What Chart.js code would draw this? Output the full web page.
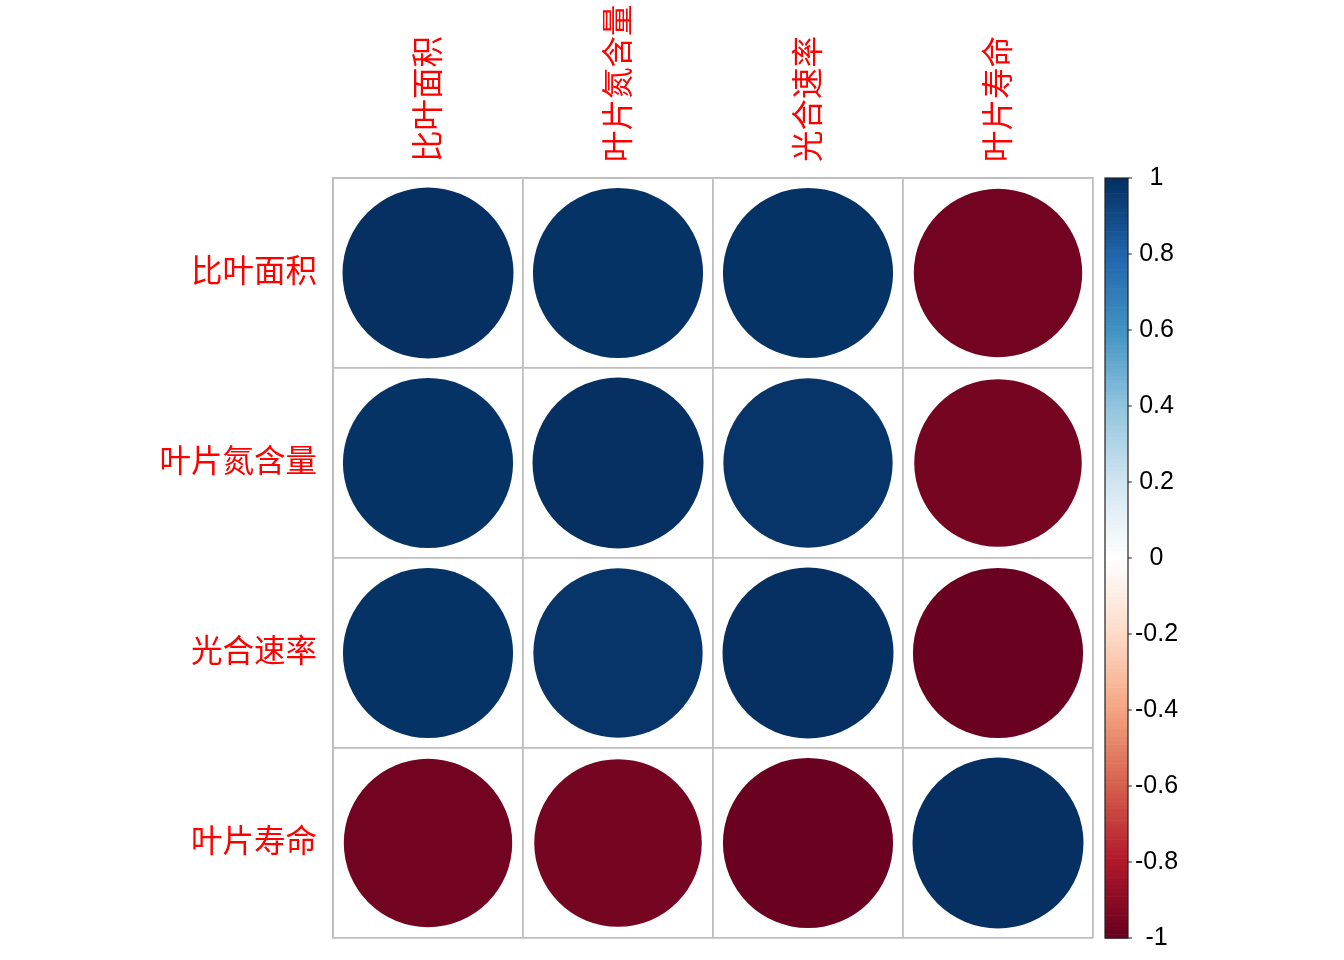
<!DOCTYPE html>
<html>
<head>
<meta charset="utf-8">
<script src="https://cdn.jsdelivr.net/npm/chart.js@4/dist/chart.umd.min.js"></script>
<style>
html,body{margin:0;padding:0;background:#fff;}
#wrap{width:1344px;height:960px;position:relative;}
</style>
</head>
<body>
<div id="wrap"><canvas id="c" width="1344" height="960"></canvas></div>
<script>
// ---- data ----
const variables = ['比叶面积', '叶片氮含量', '光合速率', '叶片寿命'];
const row1 = [1.00, 0.99, 0.99, -0.97];
const row2 = [0.99, 1.00, 0.98, -0.96];
const row3 = [0.99, 0.98, 1.00, -0.99];
const row4 = [-0.97, -0.96, -0.99, 1.00];
const corrRows = [row1, row2, row3, row4];
const barTicks = [-1, -0.8, -0.6, -0.4, -0.2, 0, 0.2, 0.4, 0.6, 0.8, 1];

// RdBu palette as used by corrplot (200 bins)
const rdbuStops = ['#67001F', '#B2182B', '#D6604D', '#F4A582', '#FDDBC7', '#FFFFFF',
                   '#D1E5F0', '#92C5DE', '#4393C3', '#2166AC', '#053061'];
function hex2rgb(h){return [parseInt(h.slice(1,3),16),parseInt(h.slice(3,5),16),parseInt(h.slice(5,7),16)];}
const stopsRGB = rdbuStops.map(hex2rgb);
const NBINS = 200;
const palette = [];
for (let i = 0; i < NBINS; i++) {
  const t = i / (NBINS - 1) * (stopsRGB.length - 1);
  const k = Math.min(Math.floor(t), stopsRGB.length - 2);
  const f = t - k;
  const a = stopsRGB[k], b = stopsRGB[k + 1];
  palette.push('rgb(' + a.map((v, j) => Math.round(v + (b[j] - v) * f)).join(',') + ')');
}
function colorFor(r) {
  const idx = Math.max(0, Math.min(NBINS - 1, Math.round((r + 1) / 2 * (NBINS - 1))));
  return palette[idx];
}

const points = [];
corrRows.forEach((row, i) => row.forEach((v, j) => {
  points.push({x: variables[j], y: variables[i], r: v});
}));

const cjkFont = {family: '"Noto Sans CJK SC", "Noto Sans", sans-serif', size: 31.5};
const numFont = {family: '"Liberation Sans", Arial, sans-serif', size: 25};

const colorbarPlugin = {
  id: 'colorbar',
  afterDraw(chart) {
    const s = chart.scales.cb;
    const ctx = chart.ctx;
    const x0 = 1105, x1 = 1128;
    const top = s.getPixelForValue(1), bot = s.getPixelForValue(-1);
    const h = (bot - top) / NBINS;
    ctx.save();
    for (let i = 0; i < NBINS; i++) {
      ctx.fillStyle = palette[i];
      ctx.fillRect(x0, bot - (i + 1) * h, x1 - x0, h + 0.6);
    }
    ctx.strokeStyle = '#222';
    ctx.lineWidth = 1.2;
    ctx.strokeRect(x0, top, x1 - x0, bot - top);
    ctx.beginPath();
    barTicks.forEach(v => {
      const y = s.getPixelForValue(v);
      ctx.moveTo(x1, y);
      ctx.lineTo(x1 + 4, y);
    });
    ctx.stroke();
    ctx.restore();
  }
};

function noPad(s) { s.paddingTop = 0; s.paddingBottom = 0; }

new Chart(document.getElementById('c'), {
  type: 'scatter',
  data: {
    datasets: [{
      data: points,
      pointStyle: 'circle',
      borderWidth: 0,
      backgroundColor: ctx => colorFor(ctx.raw.r),
      radius: ctx => {
        const sx = ctx.chart.scales.x;
        const cell = sx.width / variables.length;
        return 0.45 * cell * Math.sqrt(Math.abs(ctx.raw.r));
      },
      hoverRadius: 0
    }]
  },
  options: {
    responsive: false,
    animation: false,
    events: [],
    layout: {padding: {top: 0, bottom: 22, left: 0, right: 0}},
    plugins: {legend: {display: false}, tooltip: {enabled: false}},
    scales: {
      x: {
        type: 'category',
        labels: variables,
        position: 'top',
        offset: true,
        afterFit: s => { s.height = 178; s.paddingLeft = 0; s.paddingRight = 0; },
        grid: {offset: true, color: '#BEBEBE', lineWidth: 1.8, drawTicks: false},
        border: {color: '#BEBEBE', width: 1.8},
        ticks: {color: '#FF0000', font: cjkFont, minRotation: 90, maxRotation: 90, padding: 16,
                labelOffset: 37, autoSkip: false}
      },
      y: {
        type: 'category',
        labels: variables,
        offset: true,
        afterFit: s => { s.width = 333; noPad(s); },
        grid: {offset: true, color: '#BEBEBE', lineWidth: 1.8, drawTicks: false},
        border: {color: '#BEBEBE', width: 1.8},
        ticks: {color: '#FF0000', font: cjkFont, padding: 16, labelOffset: -3, autoSkip: false}
      },
      cb: {
        type: 'linear',
        position: 'right',
        min: -1, max: 1,
        afterFit: s => { s.width = 251; noPad(s); },
        afterBuildTicks: s => { s.ticks = barTicks.map(v => ({value: v})); },
        grid: {drawOnChartArea: false, drawTicks: false},
        border: {display: false},
        ticks: {color: '#000', font: numFont, padding: 42, crossAlign: 'center',
                callback: v => String(v)}
      }
    }
  },
  plugins: [colorbarPlugin]
});
</script>
</body>
</html>
